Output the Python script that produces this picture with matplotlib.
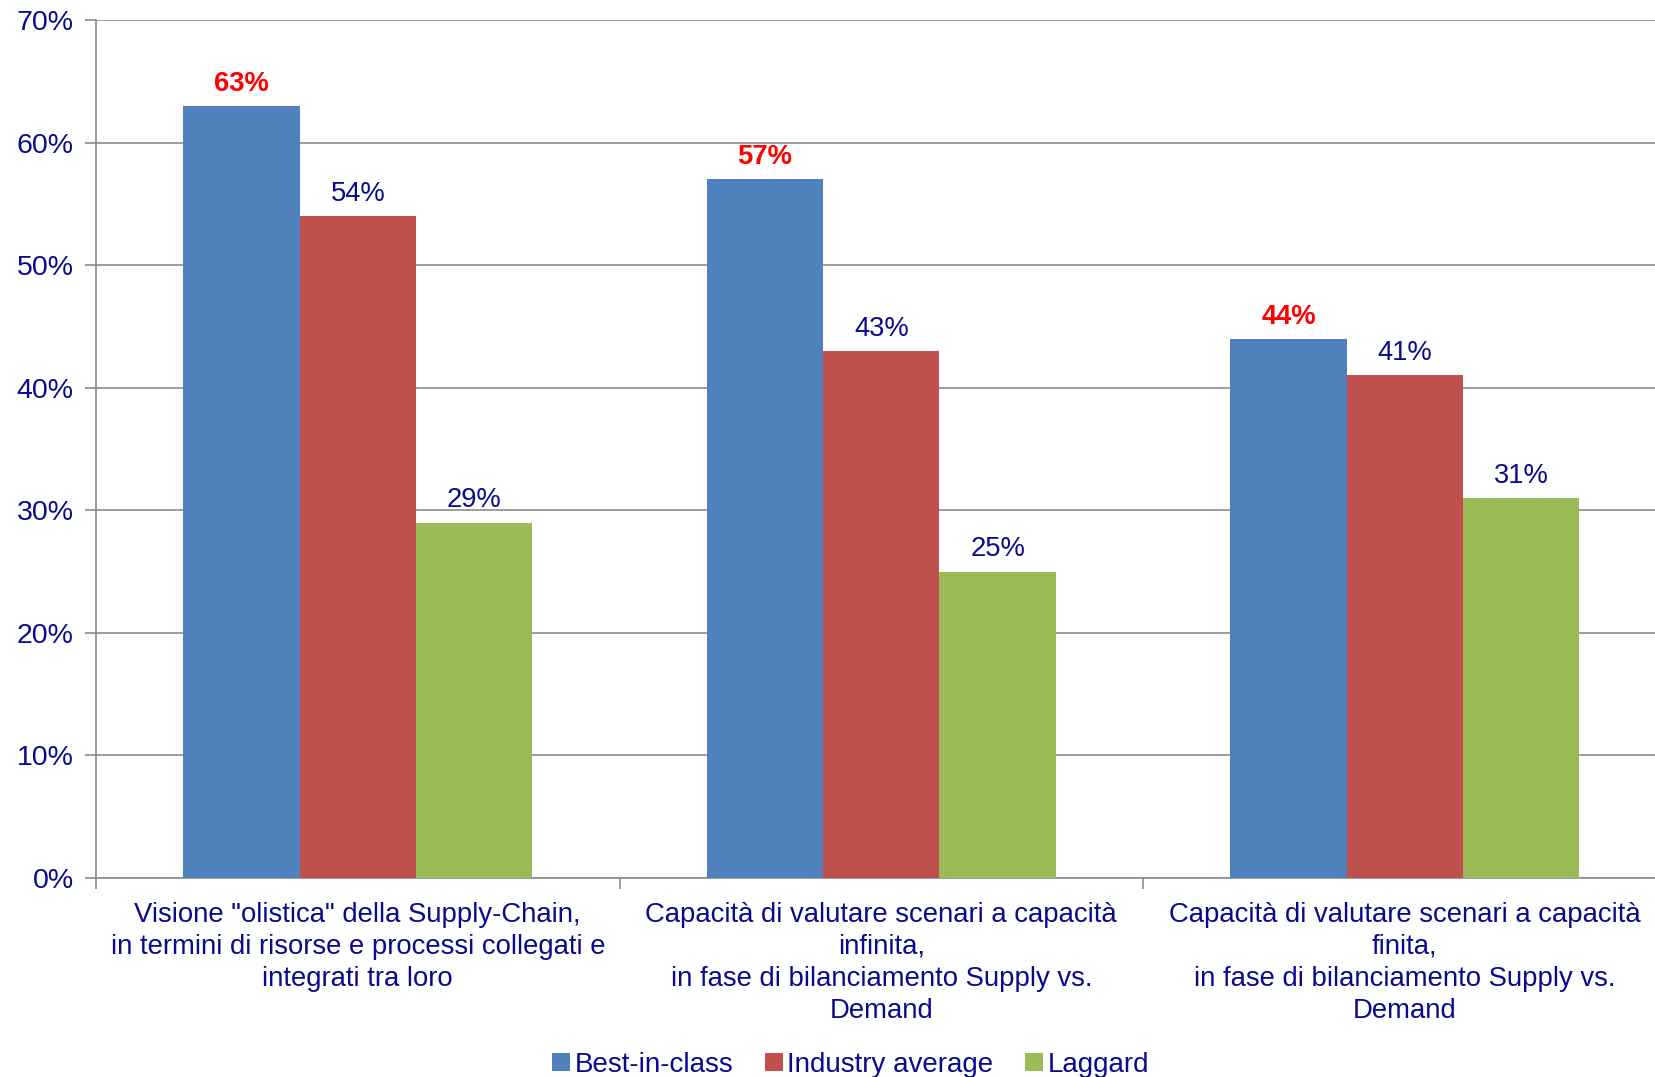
import matplotlib
matplotlib.use("Agg")
import matplotlib.pyplot as plt
import numpy as np
from matplotlib.ticker import FixedLocator

plt.rcParams['font.family'] = ['Liberation Sans', 'DejaVu Sans']

categories = [
    'Visione "olistica" della Supply-Chain,\nin termini di risorse e processi collegati e\nintegrati tra loro',
    'Capacità di valutare scenari a capacità\ninfinita,\nin fase di bilanciamento Supply vs.\nDemand',
    'Capacità di valutare scenari a capacità\nfinita,\nin fase di bilanciamento Supply vs.\nDemand',
]
series_names = ['Best-in-class', 'Industry average', 'Laggard']
best_in_class = [63, 57, 44]
industry_average = [54, 43, 41]
laggard = [29, 25, 31]
y_ticks = [0, 10, 20, 30, 40, 50, 60, 70]

colors = ['#4F81BD', '#C0504D', '#9BBB59']
navy = '#0A0A8F'
grid_col = '#8C8C8C'

fig = plt.figure(figsize=(16.55, 10.77), dpi=100)
ax = fig.add_axes([0.058, 0.1848, 0.949, 0.7966])

x = np.arange(len(categories))
w = 1 / 4.5
series = [best_in_class, industry_average, laggard]
for i, (vals, name, c) in enumerate(zip(series, series_names, colors)):
    offs = (i - 1) * w
    ax.bar(x + offs, vals, width=w, color=c, label=name, zorder=3)
    for xi, v in zip(x + offs, vals):
        if i == 0:
            ax.text(xi, v + 0.75, f'{v}%', ha='center', va='bottom', color='#FF0000',
                    fontsize=19.7, fontweight='bold')
        else:
            ax.text(xi, v + 0.75, f'{v}%', ha='center', va='bottom', color=navy,
                    fontsize=19.7)

ax.set_xlim(-0.5, len(categories) - 0.5)
ax.set_ylim(0, 70)
ax.set_yticks(y_ticks)
ax.set_yticklabels([f'{t}%' for t in y_ticks], color=navy, fontsize=20.5)
ax.yaxis.grid(True, color=grid_col, linewidth=1.2, zorder=0)
ax.set_axisbelow(True)

ax.set_xticks(x)
ax.set_xticklabels(categories, color=navy, fontsize=19.8, linespacing=1.3, va='top')
ax.tick_params(axis='x', which='major', length=0, pad=17)
ax.xaxis.set_minor_locator(FixedLocator([-0.5, 0.5, 1.5]))
ax.tick_params(axis='x', which='minor', length=8, color=grid_col, width=1.2)
ax.tick_params(axis='y', which='major', length=8, color=grid_col, width=1.2, pad=8)

for s in ['top', 'right']:
    ax.spines[s].set_visible(False)
for s in ['left', 'bottom']:
    ax.spines[s].set_color(grid_col)
    ax.spines[s].set_linewidth(1.2)

leg = fig.legend(loc='lower center', bbox_to_anchor=(0.514, -0.024), ncol=3, frameon=False,
                 fontsize=20, handlelength=0.65, handleheight=0.65, handletextpad=0.15,
                 columnspacing=1.15)
for t in leg.get_texts():
    t.set_color(navy)

fig.savefig('out.png', dpi=100)
